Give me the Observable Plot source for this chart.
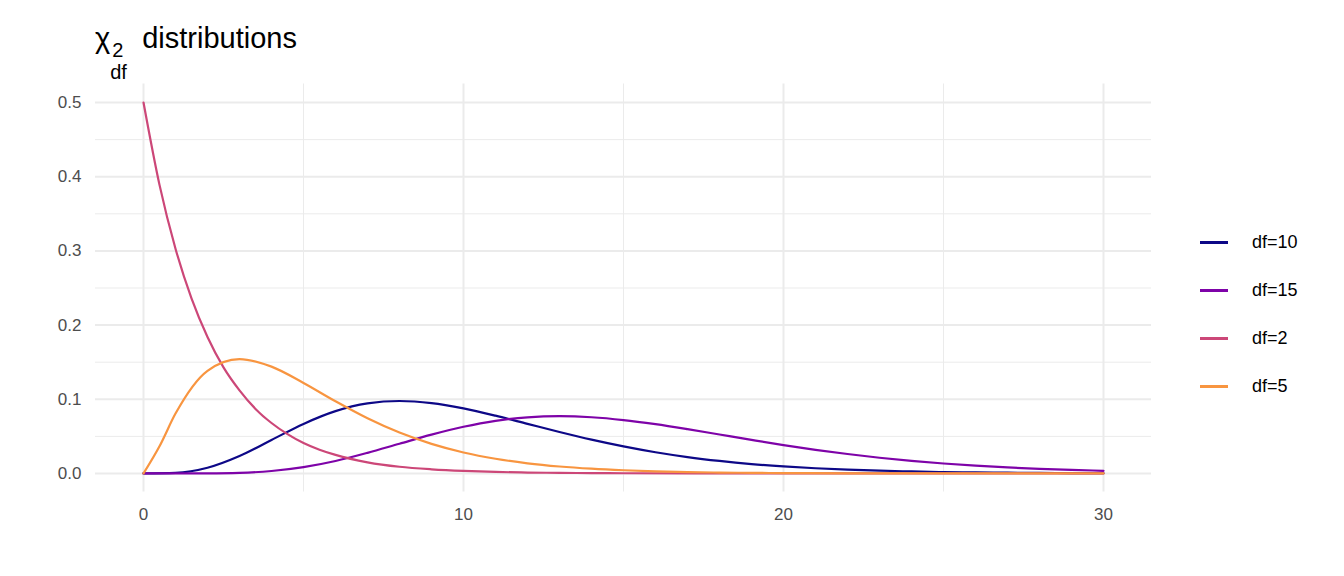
<!DOCTYPE html>
<html><head><meta charset="utf-8">
<script src="https://cdn.jsdelivr.net/npm/d3@7"></script>
<script src="https://cdn.jsdelivr.net/npm/@observablehq/plot@0.6"></script>
<style>
body{margin:0;font-family:"Liberation Sans",Arial,sans-serif;background:#fff}
#wrap{position:relative;width:1344px;height:576px}
#title{position:absolute;left:95px;top:24px;font-size:29px;color:#000;line-height:29px}
#legend{position:absolute;left:1200px;top:218px;font-size:18px;color:#000}
.li{display:flex;align-items:center;height:48px}
.sw{width:28px;height:3px;margin-right:24px}
</style></head><body>
<div id="wrap"><div id="title">χ<span style="position:relative;display:inline-block;width:32px;font-size:20px"><span style="position:absolute;left:2px;top:-12px">2</span><span style="position:absolute;left:0px;top:10px">df</span></span>distributions</div><div id="legend"></div></div>
<script>
const series = ["df=10","df=15","df=2","df=5"];
const colors = ["#0d0887","#7e03a8","#cc4778","#f89540"];
const xs = [0,1,2,3,4,5,6,7,8,9,10,11,12,13,14,15,16,17,18,19,20,21,22,23,24,25,26,27,28,29,30];
const df10 = [0,0.00079,0.0077,0.0235,0.0451,0.0668,0.0840,0.0944,0.0977,0.0949,0.0877,0.0779,0.0669,0.0559,0.0456,0.0365,0.0286,0.0221,0.0169,0.0127,0.0095,0.0070,0.0051,0.0037,0.0027,0.0019,0.0014,0.0010,0.0007,0.0005,0.0003];
const df15 = [0,0,0.0001,0.0008,0.0033,0.0085,0.0168,0.0278,0.0401,0.0523,0.0629,0.0709,0.0757,0.0772,0.0758,0.0720,0.0664,0.0597,0.0525,0.0453,0.0383,0.0319,0.0262,0.0212,0.0170,0.0134,0.0105,0.0081,0.0062,0.0048,0.0036];
const df2x = [0,0.5,1,1.5,2,2.5,3,3.5,4,4.5,5,5.5,6,7,8,9,10,11,12,13,14,15,20,25,30];
const df2 = [0.5,0.389,0.303,0.236,0.184,0.143,0.112,0.087,0.068,0.053,0.041,0.032,0.025,0.015,0.009,0.0056,0.0034,0.0020,0.0012,0.0008,0.0005,0.0003,0,0,0];
const df5x = [0,0.5,1,2,3,4,5,6,7,8,9,10,11,12,13,14,15,16,17,18,19,20,22,25,30];
const df5 = [0,0.0366,0.0807,0.1384,0.1542,0.1440,0.1220,0.0973,0.0744,0.0551,0.0399,0.0283,0.0198,0.0137,0.0094,0.0064,0.0043,0.0028,0.0019,0.0012,0.0008,0.0005,0.0002,0.0001,0];
const data = [
  ...xs.map((x,i)=>({x,y:df10[i],s:series[0]})),
  ...xs.map((x,i)=>({x,y:df15[i],s:series[1]})),
  ...df2x.map((x,i)=>({x,y:df2[i],s:series[2]})),
  ...df5x.map((x,i)=>({x,y:df5[i],s:series[3]}))
];
const xMajor=[0,10,20,30], xMinor=[5,15,25];
const yMajor=[0,0.1,0.2,0.3,0.4,0.5], yMinor=[0.05,0.15,0.25,0.35,0.45];
const plot = Plot.plot({
  width:1344,height:576,marginLeft:95,marginRight:193,marginTop:83.5,marginBottom:84.5,
  style:{fontFamily:"Liberation Sans, Arial, sans-serif"},
  x:{domain:[-1.5,31.5],label:null},
  y:{domain:[-0.025,0.525],label:null},
  color:{domain:series,range:colors},
  marks:[
    Plot.ruleX(xMinor,{stroke:"#ebebeb",strokeWidth:1}),
    Plot.ruleY(yMinor,{stroke:"#ebebeb",strokeWidth:1}),
    Plot.ruleX(xMajor,{stroke:"#ebebeb",strokeWidth:2}),
    Plot.ruleY(yMajor,{stroke:"#ebebeb",strokeWidth:2}),
    Plot.axisX({ticks:xMajor,tickSize:0,tickPadding:16,fontSize:17,fill:"#4d4d4d",label:null}),
    Plot.axisY({ticks:yMajor,tickSize:0,tickPadding:14,fontSize:17,fill:"#4d4d4d",label:null,tickFormat:d3.format(".1f")}),
    Plot.line(data,{x:"x",y:"y",stroke:"s",z:"s",strokeWidth:2.2,curve:"monotone-x"})
  ]
});
document.getElementById("wrap").prepend(plot);
document.getElementById("legend").innerHTML = series.map((s,i)=>`<div class="li"><div class="sw" style="background:${colors[i]}"></div>${s}</div>`).join("");
</script></body></html>
